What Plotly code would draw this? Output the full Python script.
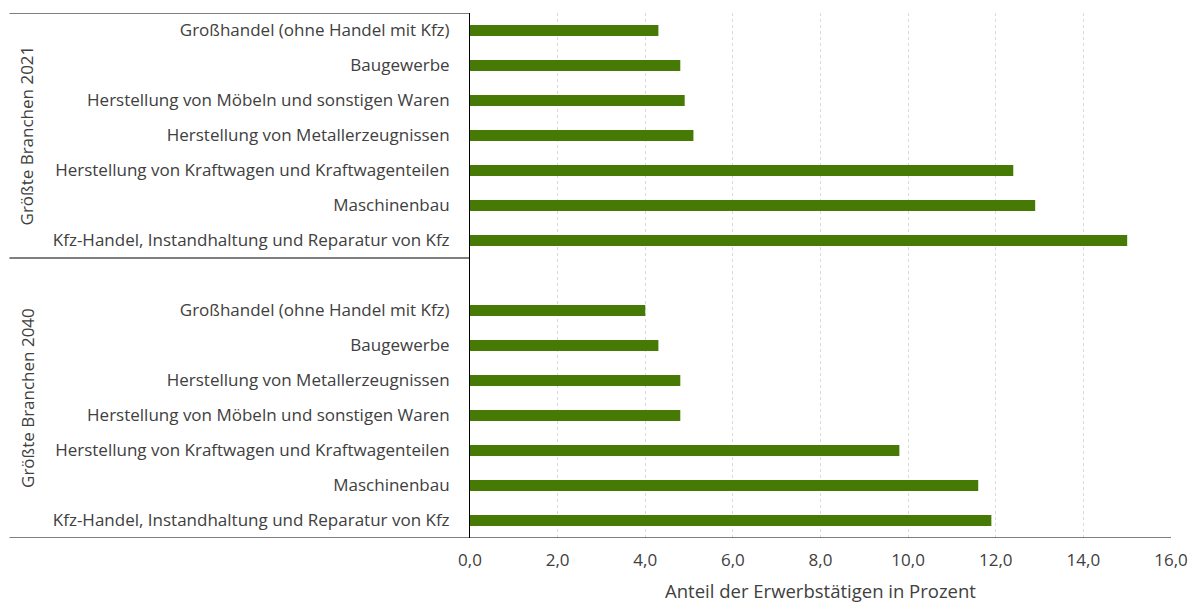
import plotly.graph_objects as go

groups = ["Größte Branchen 2021", "Größte Branchen 2040"]
cats_2021 = [
    "Großhandel (ohne Handel mit Kfz)",
    "Baugewerbe",
    "Herstellung von Möbeln und sonstigen Waren",
    "Herstellung von Metallerzeugnissen",
    "Herstellung von Kraftwagen und Kraftwagenteilen",
    "Maschinenbau",
    "Kfz-Handel, Instandhaltung und Reparatur von Kfz",
]
vals_2021 = [4.3, 4.8, 4.9, 5.1, 12.4, 12.9, 15.0]
cats_2040 = [
    "Großhandel (ohne Handel mit Kfz)",
    "Baugewerbe",
    "Herstellung von Metallerzeugnissen",
    "Herstellung von Möbeln und sonstigen Waren",
    "Herstellung von Kraftwagen und Kraftwagenteilen",
    "Maschinenbau",
    "Kfz-Handel, Instandhaltung und Reparatur von Kfz",
]
vals_2040 = [4.0, 4.3, 4.8, 4.8, 9.8, 11.6, 11.9]
x_ticks = [0, 2, 4, 6, 8, 10, 12, 14, 16]

# build category sequence: group 2021, one blank slot, group 2040
labels = cats_2021 + [""] + cats_2040
values = vals_2021 + [None] + vals_2040
pos = list(range(len(labels)))

FONT = "Open Sans"
FS = 17
GREEN = "#477a05"
TXT = "#404040"

fig = go.Figure()
fig.add_trace(go.Bar(
    x=values, y=pos, orientation="h", width=0.31,
    marker=dict(color=GREEN, line=dict(width=0)),
    hoverinfo="x+text", hovertext=labels,
))

n1 = len(cats_2021)
sep = n1 - 0.5  # boundary after last 2021 category
top = -0.5
bottom = len(labels) - 0.5
left_paper = -0.657

shapes = []
for yv in (top, sep):
    shapes.append(dict(type="line", xref="paper", yref="y", x0=left_paper, x1=0,
                       y0=yv, y1=yv, line=dict(color="#000000", width=1)))
shapes.append(dict(type="line", xref="paper", yref="y", x0=left_paper, x1=1,
                   y0=bottom, y1=bottom, line=dict(color="#000000", width=1)))

annotations = [
    dict(text=groups[0], xref="paper", yref="y", x=-0.632, y=(top + sep) / 2,
         xanchor="center", yanchor="middle",
         textangle=-90, showarrow=False, font=dict(family=FONT, size=FS, color=TXT)),
    dict(text=groups[1], xref="paper", yref="y", x=-0.632, y=(sep + bottom) / 2,
         xanchor="center", yanchor="middle",
         textangle=-90, showarrow=False, font=dict(family=FONT, size=FS, color=TXT)),
]

fig.update_layout(
    width=1192, height=603,
    margin=dict(l=470, r=21, t=13, b=65, autoexpand=False),
    plot_bgcolor="white", paper_bgcolor="white",
    separators=",.",
    showlegend=False,
    shapes=shapes, annotations=annotations,
    font=dict(family=FONT, size=FS, color=TXT),
    xaxis=dict(range=[0, 16], tickvals=x_ticks, tickformat=".1f", automargin=False,
               showgrid=True, gridcolor="#d9d9d9", griddash="dot", gridwidth=1,
               zeroline=False, showline=False, ticks="", ticklabelstandoff=10,
               tickfont=dict(family=FONT, size=FS, color=TXT),
               title=dict(text="Anteil der Erwerbstätigen in Prozent",
                          font=dict(family=FONT, size=18.5, color=TXT), standoff=21)),
    yaxis=dict(range=[bottom, top], tickmode="array", tickvals=pos, ticktext=labels,
               automargin=False,
               showgrid=False, zeroline=False, showline=True, linecolor="#000000",
               linewidth=1, ticks="", ticklabelstandoff=16,
               tickfont=dict(family=FONT, size=FS, color=TXT)),
)

fig.write_html("out.html", config={"displayModeBar": False},
               post_script="document.body.style.margin='0';document.body.style.overflow='hidden';")
